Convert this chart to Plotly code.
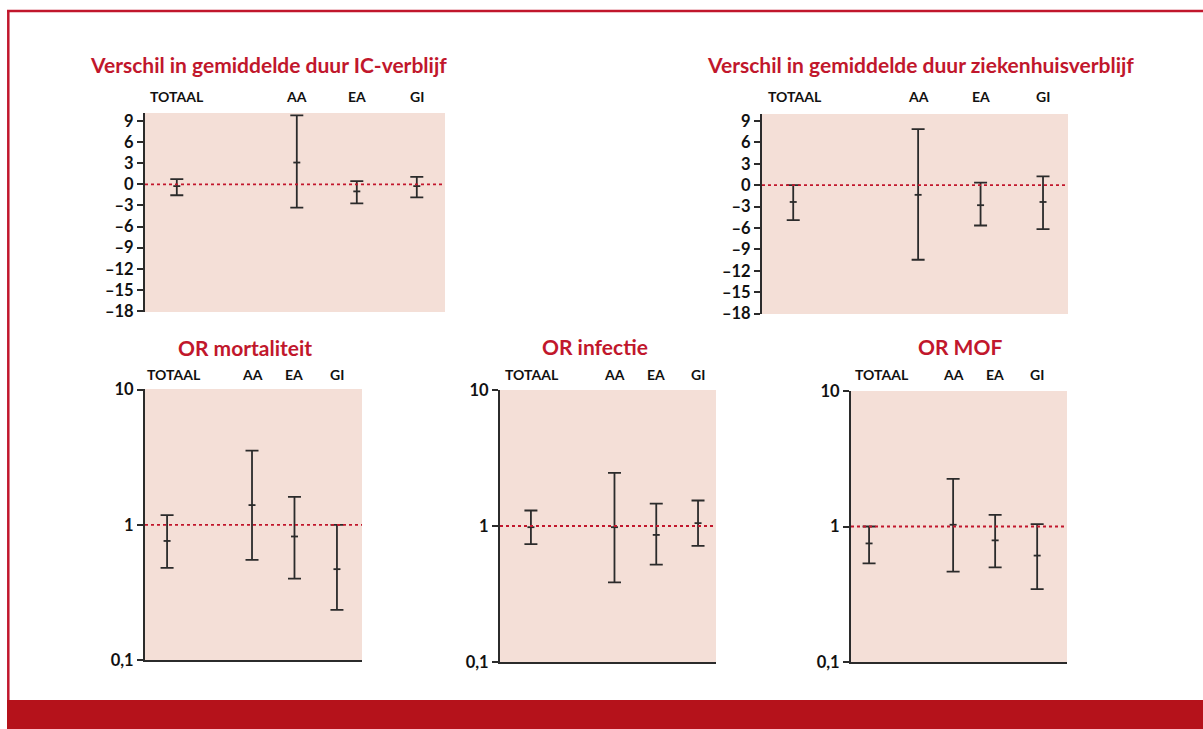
import plotly.graph_objects as go

# ---------------- data ----------------
categories = ["TOTAAL", "AA", "EA", "GI"]
cat_pos = [0, 2, 3, 4]

ic_mean = [-0.25, 3.1, -1.0, -0.25]
ic_low = [-1.55, -3.3, -2.7, -1.85]
ic_high = [0.75, 9.8, 0.45, 1.05]

zh_mean = [-2.35, -1.35, -2.8, -2.35]
zh_low = [-4.9, -10.45, -5.65, -6.15]
zh_high = [0.0, 7.85, 0.35, 1.25]

mort_mean = [0.76, 1.40, 0.82, 0.47]
mort_low = [0.48, 0.55, 0.40, 0.235]
mort_high = [1.18, 3.54, 1.61, 1.0]

inf_mean = [0.98, 0.98, 0.86, 1.05]
inf_low = [0.735, 0.385, 0.52, 0.715]
inf_high = [1.30, 2.46, 1.46, 1.54]

mof_mean = [0.75, 1.03, 0.79, 0.61]
mof_low = [0.535, 0.465, 0.50, 0.345]
mof_high = [1.0, 2.25, 1.22, 1.04]

lin_ticks = [9, 6, 3, 0, -3, -6, -9, -12, -15, -18]
lin_ticktext = ["9", "6", "3", "0", "–3", "–6", "–9", "–12", "–15", "–18"]
log_ticks = [0.1, 1, 10]
log_ticktext = ["0,1", "1", "10"]

titles = ["Verschil in gemiddelde duur IC-verblijf",
          "Verschil in gemiddelde duur ziekenhuisverblijf",
          "OR mortaliteit", "OR infectie", "OR MOF"]

# ---------------- styling ----------------
W, H = 1203, 729
RED = "#c1172c"
BAR_RED = "#b5121b"
AX = "#2b2b2b"
BG = "#f4dfd7"
FONT = "Lato"

panels = [
    dict(m=ic_mean, lo=ic_low, hi=ic_high, log=False, px=(145, 445), py=(113, 312),
         xr=[-0.53, 4.47], yr=[-18.14, 10.14], ref=0, tx=268, ty=65, ly=96, ts=0),
    dict(m=zh_mean, lo=zh_low, hi=zh_high, log=False, px=(762, 1068), py=(114, 314),
         xr=[-0.5, 4.4], yr=[-18.05, 9.98], ref=0, tx=921, ty=64, ly=96, ts=2),
    dict(m=mort_mean, lo=mort_low, hi=mort_high, log=True, px=(145, 362), py=(389, 660),
         xr=[-0.52, 4.59], yr=[-1.0, 1.005], ref=1, tx=245, ty=347, ly=374, ts=7),
    dict(m=inf_mean, lo=inf_low, hi=inf_high, log=True, px=(500, 716), py=(390, 662),
         xr=[-0.74, 4.43], yr=[-1.0, 1.0], ref=1, tx=595, ty=346, ly=374, ts=1),
    dict(m=mof_mean, lo=mof_low, hi=mof_high, log=True, px=(851, 1067), py=(391, 662),
         xr=[-0.43, 4.71], yr=[-1.0, 1.0], ref=1, tx=960, ty=346, ly=374, ts=13),
]

fig = go.Figure()
layout = {}
annotations = []
shapes = []

for i, p in enumerate(panels, start=1):
    sfx = "" if i == 1 else str(i)
    xa, ya = "x" + sfx, "y" + sfx
    up = [h - m for h, m in zip(p["hi"], p["m"])]
    dn = [m - l for m, l in zip(p["m"], p["lo"])]
    fig.add_trace(go.Scatter(
        x=cat_pos, y=p["m"], xaxis=xa, yaxis=ya, mode="markers",
        marker=dict(symbol="line-ew", size=5, line=dict(width=1.8, color=AX)),
        error_y=dict(type="data", array=up, arrayminus=dn, color=AX,
                     thickness=1.8, width=6.5),
        showlegend=False, hoverinfo="skip", cliponaxis=False))

    xd = [p["px"][0] / W, p["px"][1] / W]
    yd = [1 - p["py"][1] / H, 1 - p["py"][0] / H]
    layout["xaxis" + sfx] = dict(
        domain=xd, anchor=ya, range=p["xr"], showgrid=False, zeroline=False,
        showticklabels=False, ticks="", fixedrange=True, automargin=False,
        showline=p["log"], linecolor=AX, linewidth=2)
    yax = dict(domain=yd, anchor=xa, showgrid=False, zeroline=False, automargin=False,
               showline=True, linecolor=AX, linewidth=2,
               ticks="outside", ticklen=6, tickwidth=2, tickcolor=AX,
               tickfont=dict(family=FONT, size=16.5, color="#111", weight="bold"))
    if p["log"]:
        yax.update(type="log", range=p["yr"], tickvals=log_ticks, ticktext=log_ticktext)
    else:
        yax.update(range=p["yr"], tickvals=lin_ticks, ticktext=lin_ticktext)
    layout["yaxis" + sfx] = yax

    shapes.append(dict(type="line", xref=xa + " domain", yref=ya,
                       x0=0, x1=1, y0=p["ref"], y1=p["ref"],
                       line=dict(color=RED, width=1.8, dash="dot")))
    annotations.append(dict(text=titles[i - 1], xref="paper", yref="paper",
                            x=p["tx"] / W, y=1 - p["ty"] / H, showarrow=False,
                            xanchor="center", yanchor="middle",
                            font=dict(family=FONT, size=21, color=RED, weight="bold")))
    for c, xp in zip(categories, cat_pos):
        annotations.append(dict(text=c, xref=xa, yref="paper", x=xp,
                                y=1 - p["ly"] / H, showarrow=False,
                                xanchor="center", yanchor="middle",
                                xshift=p["ts"] if c == "TOTAAL" else 0,
                                font=dict(family=FONT, size=14, color="#111", weight="bold")))

# frame
shapes.append(dict(type="line", xref="paper", yref="paper",
                   x0=7 / W, x1=1, y0=1 - 11 / H, y1=1 - 11 / H,
                   line=dict(color=RED, width=2.5)))
shapes.append(dict(type="line", xref="paper", yref="paper",
                   x0=8.3 / W, x1=8.3 / W, y0=1 - 11 / H, y1=1 - 700 / H,
                   line=dict(color=RED, width=2.5)))
shapes.append(dict(type="rect", xref="paper", yref="paper",
                   x0=7 / W, x1=1, y0=0, y1=1 - 700 / H,
                   line=dict(width=0), fillcolor=BAR_RED))

fig.update_layout(**layout)
fig.update_layout(
    width=W, height=H, margin=dict(l=0, r=0, t=0, b=0, pad=0, autoexpand=False),
    paper_bgcolor="white", plot_bgcolor=BG, separators=",.",
    annotations=annotations, shapes=shapes, showlegend=False,
    font=dict(family=FONT),
)

fig.write_html("out.html", config={"displayModeBar": False})
